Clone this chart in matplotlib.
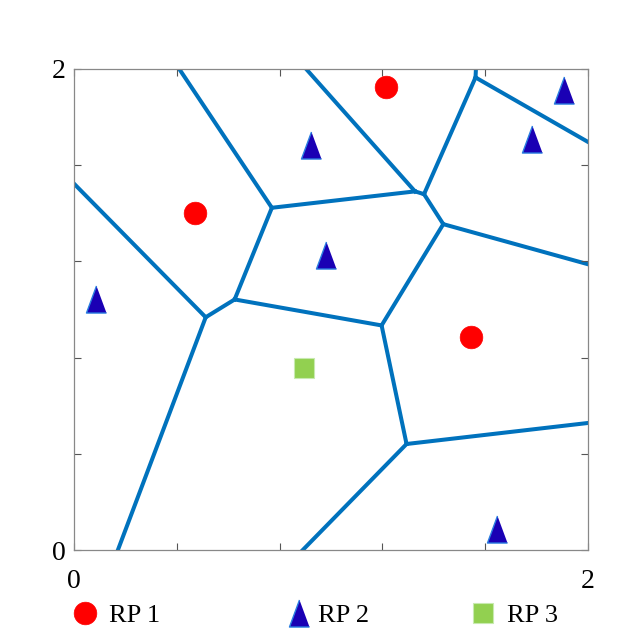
import numpy as np
import matplotlib.pyplot as plt

# reference points (marker centres)
rp1_x = [0.471, 1.213, 1.544]
rp1_y = [1.401, 1.925, 0.886]
rp2_x = [0.084, 0.921, 0.979, 1.782, 1.907, 1.645]
rp2_y = [1.044, 1.682, 1.227, 1.709, 1.913, 0.089]
rp3_x = [0.894]
rp3_y = [0.758]
labels = ['RP 1', 'RP 2', 'RP 3']

# generators of the voronoi lines, fitted to the drawn cells
site_x = [0.471, 1.213, 1.544, 0.084, 0.921, 0.979, 1.782, 1.907, 1.645, 0.894]
site_y = [1.401, 1.925, 0.886, 1.044, 1.682, 1.208, 1.690, 1.894, 0.070, 0.758]
lim = 2.0


def clip(poly, p, q):
    # keep the part of poly that is closer to p than to q
    d = np.subtract(q, p)
    m = (np.array(p) + np.array(q)) / 2
    out = []
    n = len(poly)
    for k in range(n):
        a = poly[k]
        b = poly[(k + 1) % n]
        fa = np.dot(a - m, d)
        fb = np.dot(b - m, d)
        if fa <= 0:
            out.append(a)
        if fa * fb < 0:
            t = fa / (fa - fb)
            out.append(a + t * (b - a))
    return out


def on_border(a, b, eps=1e-9):
    for c in range(2):
        for v in (0.0, lim):
            if abs(a[c] - v) < eps and abs(b[c] - v) < eps:
                return True
    return False


pts = np.array(list(zip(site_x, site_y)))
segs = set()
for i, p in enumerate(pts):
    cell = [np.array(v, float) for v in [(0, 0), (lim, 0), (lim, lim), (0, lim)]]
    for j, q in enumerate(pts):
        if i != j:
            cell = clip(cell, p, q)
    for k in range(len(cell)):
        a = cell[k]
        b = cell[(k + 1) % len(cell)]
        if on_border(a, b) or np.allclose(a, b):
            continue
        s = tuple(sorted([tuple(np.round(a, 6)), tuple(np.round(b, 6))]))
        segs.add(s)

plt.rcParams['font.family'] = ['Liberation Serif', 'DejaVu Serif']
fig = plt.figure(figsize=(6.4, 6.4), dpi=100)
ax = fig.add_axes([0.1156, 0.1406, 0.8031, 0.7516])

for (a, b) in segs:
    ax.plot([a[0], b[0]], [a[1], b[1]], color='#0072BD', lw=2.9, zorder=1)

tri = [(0, 1), (-0.74, -1), (0.74, -1)]
h1, = ax.plot(rp1_x, rp1_y, 'o', ms=16.3, mfc='#ff0000', mec='#ff0000',
              mew=0.5, ls='none', zorder=3)
h2, = ax.plot(rp2_x, rp2_y, marker=tri, ms=19.5, mfc='#1a00b4', mec='#2a7fe0',
              mew=1.0, ls='none', zorder=3)
h3, = ax.plot(rp3_x, rp3_y, 's', ms=15, mfc='#92d050', mec='#c8eab0',
              mew=0.8, ls='none', zorder=3)

ax.set_xlim(0, lim)
ax.set_ylim(0, lim)
ticks = np.arange(0, 2.01, 0.4)
ax.set_xticks(ticks)
ax.set_yticks(ticks)
ax.set_xticklabels(['0', '', '', '', '', '2'])
ax.set_yticklabels(['0', '', '', '', '', '2'])
ax.tick_params(direction='in', length=5, width=0.8, color='#555555',
               top=True, right=True, labelsize=20)
ax.tick_params(axis='x', pad=14)
ax.tick_params(axis='y', pad=6)
for s in ax.spines.values():
    s.set_color('#888888')
    s.set_linewidth(0.9)

# one legend box per entry, the columns are not evenly spaced
for h, lab, x0, tp in zip([h1, h2, h3], labels, [72, 286, 470], [0.4, 0.2, 0.4]):
    fig.legend([h], [lab], loc='center left', bbox_to_anchor=(x0 / 640, 0.038),
               frameon=False, fontsize=19, handlelength=1.0,
               handletextpad=tp, borderpad=0, borderaxespad=0)

fig.savefig('out.png', dpi=100, facecolor='white')
